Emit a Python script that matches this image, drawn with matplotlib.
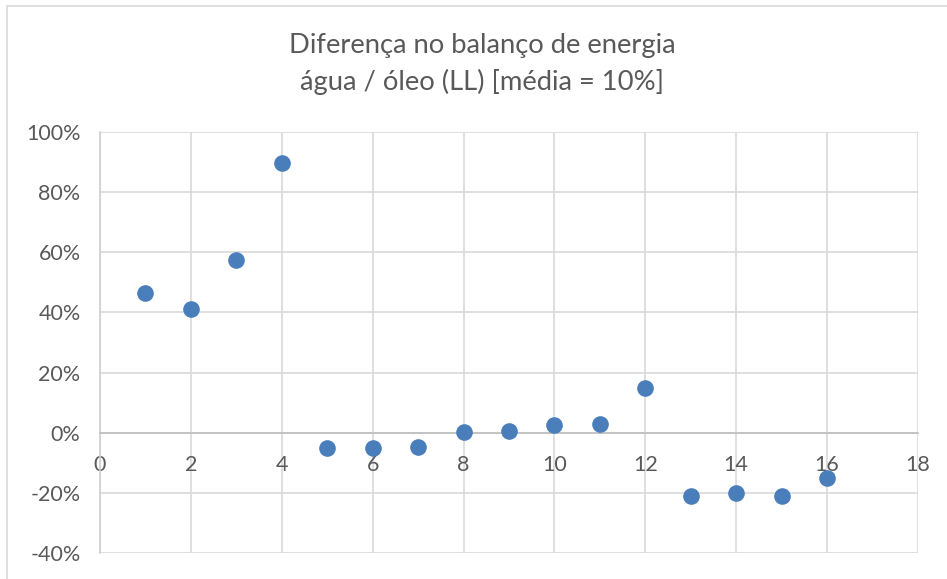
import matplotlib
matplotlib.use('Agg')
import matplotlib.pyplot as plt
from matplotlib.patches import Rectangle
from matplotlib.ticker import FuncFormatter

plt.rcParams['font.family'] = ['Lato', 'DejaVu Sans']

# data
x = [1, 2, 3, 4, 5, 6, 7, 8, 9, 10, 11, 12, 13, 14, 15, 16]
diff = [46.6, 41.2, 57.3, 89.8, -5.0, -5.0, -4.8, 0.2, 0.5, 2.7, 2.8, 15.0,
        -21.2, -20.0, -20.9, -14.9]

title = 'Diferença no balanço de energia\nágua / óleo (LL) [média = 10%]'
gray_txt = '#595959'
grid_c = '#d9d9d9'

fig = plt.figure(figsize=(9.47, 5.79), dpi=100)
ax = fig.add_axes([100 / 947, 1 - 553 / 579, 818 / 947, 421 / 579])

# chart border
fig.patches.append(Rectangle((7 / 947, -0.1), 1.2, 1 - 6 / 579 + 0.1,
                             transform=fig.transFigure, fill=False,
                             edgecolor=grid_c, linewidth=1.2))

ax.scatter(x, diff, s=120, color='#4a7ebb', zorder=3, clip_on=False)

ax.set_xlim(0, 18)
ax.set_ylim(-40, 100)
ax.set_xticks(range(0, 19, 2))
ax.set_yticks(range(-40, 101, 20))
ax.yaxis.set_major_formatter(FuncFormatter(lambda v, p: f'{v:.0f}%'))
ax.grid(True, color=grid_c, linewidth=1.2)
ax.set_axisbelow(True)

for s in ['top', 'right']:
    ax.spines[s].set_visible(False)
ax.spines['left'].set_color('#cfcfcf')
ax.spines['left'].set_linewidth(1.2)
ax.spines['bottom'].set_position(('data', 0))
ax.spines['bottom'].set_color('#bfbfbf')
ax.spines['bottom'].set_linewidth(1.2)

ax.tick_params(axis='both', length=0, labelsize=15.5, labelcolor=gray_txt)
ax.tick_params(axis='y', pad=14)
ax.tick_params(axis='x', pad=16)

fig.text(482 / 947, 1 - 64 / 579, title, ha='center', va='center',
         fontsize=19.7, color=gray_txt, linespacing=1.5)

fig.savefig('out.png', dpi=100)
